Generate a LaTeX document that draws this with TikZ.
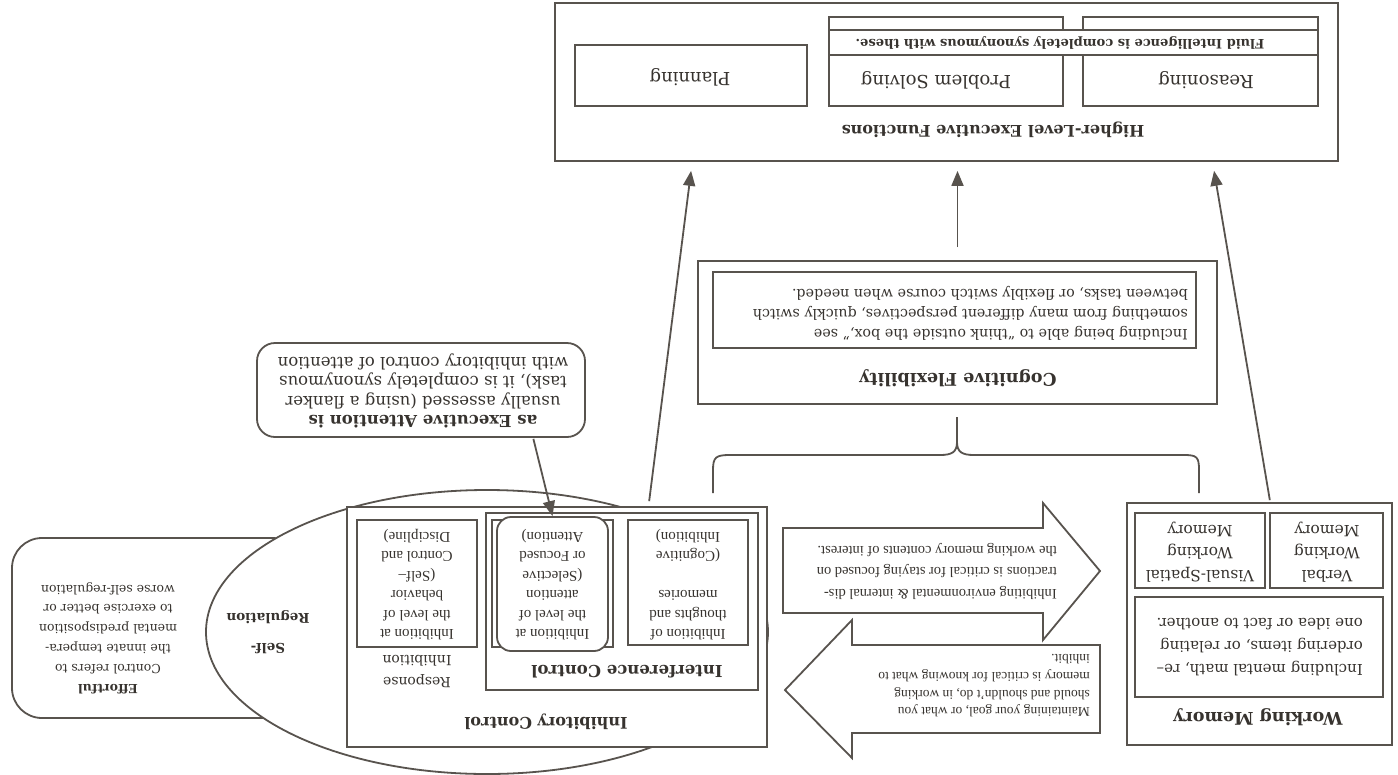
\documentclass[tikz,border=0pt]{standalone}
\usepackage{fontspec}
\setmainfont{DejaVu Serif}
\newfontfamily\tms{Liberation Serif}
\usetikzlibrary{arrows.meta,calc,shapes.geometric}
\definecolor{linec}{RGB}{88,83,78}
\definecolor{txtc}{RGB}{55,51,47}
\begin{document}
\begin{tikzpicture}[x=1pt,y=-1pt,
  every node/.append style={rotate=180, text=txtc, inner sep=0pt},
  ln/.style={draw=linec, line width=1.8pt},
  box/.style={ln, fill=white, rectangle, inner sep=0pt},
  arr/.style={draw=linec, line width=1.8pt, -{Triangle[length=15pt,width=12pt]}},
  hd/.style={font=\bfseries\fontsize{16.5}{20}\selectfont},
  big/.style={font=\fontsize{18}{20}\selectfont},
  body/.style={font=\fontsize{14.3}{20}\selectfont},
  small/.style={font=\tms\fontsize{15}{19.5}\selectfont, align=center},
]
\fill[white] (0,0) rectangle (1398,774);
\useasboundingbox (0,0) rectangle (1398,774);

% ---------------- Higher-level executive functions
\node[box, minimum width=783pt, minimum height=158pt] (hlef) at (946.5,82) {};
\node[box, minimum width=235pt, minimum height=89pt] (rs) at (1200.5,61.5) {};
\node[box, minimum width=234pt, minimum height=89pt] (ps) at (946,61.5) {};
\node[box, minimum width=232pt, minimum height=61pt] (pl) at (691,75.5) {};
\node[box, minimum width=489pt, minimum height=25pt] (fl) at (1073.5,42.5) {};
\node[font=\bfseries\fontsize{16}{20}\selectfont] (hlt) at (993,130) {Higher-Level Executive Functions};
\node[big] (rst) at (1206,80) {Reasoning};
\node[big] (pst) at (936,80) {Problem Solving};
\node[big] (plt) at (690,77) {Planning};
\node[font=\bfseries\fontsize{13}{15}\selectfont] (flt) at (1060,43) {Fluid Intelligence is completely synonymous with these.};

% ---------------- Cognitive flexibility
\node[box, minimum width=519pt, minimum height=143pt] (cf) at (957.5,332.5) {};
\node[box, minimum width=483pt, minimum height=76pt] (cfi) at (954.5,310) {};
\node[font=\bfseries\fontsize{17.5}{20}\selectfont] (cft) at (958,378) {Cognitive Flexibility};
\node[body, align=left, anchor=west] (cfx) at (1188,313) {Including being able to “think outside the box,” see\\something from many different perspectives, quickly switch\\between tasks, or flexibly switch course when needed.};
\draw[ln] (713,493) -- (713,470) .. controls (713,457) and (716,455) .. (730,455) -- (940,455) .. controls (952,455) and (957,452) .. (957,442) .. controls (957,452) and (962,455) .. (974,455) -- (1184,455) .. controls (1197,455) and (1199,457) .. (1199,470) -- (1199,493);
\draw[ln] (957,442) -- (957,417);

% ---------------- Effortful control and self-regulation
\node[box, rounded corners=30pt, minimum width=290pt, minimum height=180pt] (ec) at (157,628) {};
\node[font=\fontsize{12.5}{19.8}\selectfont, align=center] (ect) at (108,638) {\textbf{Effortful}\\Control refers to\\the innate tempera-\\mental predisposition\\to exercise better or\\worse self-regulation};
\node[ln, fill=white, ellipse, minimum width=562pt, minimum height=284pt] (sr) at (487,632) {};
\node[font=\bfseries\fontsize{13.5}{30}\selectfont, align=center] (srt) at (268,632) {Self-\\Regulation};

% ---------------- Inhibitory control
\node[box, minimum width=420pt, minimum height=240pt] (ic) at (557,627) {};
\node[box, minimum width=272pt, minimum height=177pt] (ifc) at (622,601.5) {};
\node[box, minimum width=120pt, minimum height=127pt] (rb) at (417,583.5) {};
\node[box, minimum width=121pt, minimum height=127pt] (ab) at (552.5,583.5) {};
\node[box, rounded corners=14pt, minimum width=111pt, minimum height=134pt] (att) at (552.5,584) {};
\node[box, minimum width=120pt, minimum height=125pt] (tb) at (688,582.5) {};
\node[font=\bfseries\fontsize{16}{20}\selectfont] (ict) at (546,722) {Inhibitory Control};
\node[hd] (ift) at (627,672) {Interference Control};
\node[font=\fontsize{14}{22}\selectfont, align=center] (rit) at (417,671) {Response\\Inhibition};
\node[small] (rbt) at (417,584.5) {Inhibition at\\the level of\\behavior\\(Self–\\Control and\\Discipline)};
\node[small] (abt) at (552.5,584.5) {Inhibition at\\the level of\\attention\\(Selective\\or Focused\\Attention)};
\node[small] (tbt) at (688,584.5) {Inhibition of\\thoughts and\\memories\\[19.5pt](Cognitive\\Inhibition)};

% ---------------- Callout
\node[box, rounded corners=18pt, minimum width=328pt, minimum height=94pt] (ea) at (421,390) {};
\node[font=\fontsize{16.5}{19.5}\selectfont, align=center] (eat) at (423,391) {\textbf{as Executive Attention is}\\usually assessed (using a flanker\\task), it is completely synonymous\\with inhibitory control of attention};
\draw[arr, shorten <=1pt] ($(ea.north east)!0.84!(ea.north west)$) -- (att.south);

% ---------------- Working memory
\node[box, minimum width=265pt, minimum height=242pt] (wm) at (1259.5,624) {};
\node[box, minimum width=113pt, minimum height=75pt] (vb) at (1326.5,550.5) {};
\node[box, minimum width=130pt, minimum height=75pt] (vs) at (1200,550.5) {};
\node[box, minimum width=248pt, minimum height=100pt] (wmi) at (1259,647) {};
\node[font=\bfseries\fontsize{17.5}{20}\selectfont] (wmt) at (1258,717) {Working Memory};
\node[font=\fontsize{15.5}{22.5}\selectfont, align=center] (vbt) at (1327,552) {Verbal\\Working\\Memory};
\node[font=\fontsize{15.5}{22.5}\selectfont, align=center] (vst) at (1200,552) {Visual-Spatial\\Working\\Memory};
\node[font=\fontsize{15}{23}\selectfont, align=left, anchor=west] (wmx) at (1363,647) {Including mental math, re–\\ordering items, or relating\\one idea or fact to another.};

% ---------------- Double arrows
\draw[ln, fill=white] (783,528) -- (1043,528) -- (1043,503) -- (1100,571) -- (1043,640) -- (1043,613) -- (783,613) -- cycle;
\draw[ln, fill=white] (1100,645) -- (852,645) -- (852,620) -- (785,690) -- (852,758) -- (852,733) -- (1100,733) -- cycle;
\node[font=\tms\fontsize{14.5}{21.5}\selectfont, align=left, anchor=west] (art) at (1057,571) {Inhibiting environmental \& internal dis-\\tractions is critical for staying focused on\\the working memory contents of interest.};
\node[font=\tms\fontsize{13.5}{17.7}\selectfont, align=left, anchor=west] (alt) at (1090,686) {Maintaining your goal, or what you\\should and shouldn’t do, in working\\memory is critical for knowing what to\\inhibit.};

% ---------------- Connectors to higher-level functions
\draw[arr, shorten <=5pt, shorten >=9pt] ($(ic.south east)!0.717!(ic.south west)$) -- ($(hlef.north east)!0.176!(hlef.north west)$);
\draw[arr, shorten <=13pt, shorten >=9pt] (cf.south) -- (cf.south |- hlef.north);
\draw[arr, shorten <=2pt, shorten >=9pt] ($(wm.south east)!0.54!(wm.south west)$) -- ($(hlef.north east)!0.839!(hlef.north west)$);
\end{tikzpicture}
\end{document}
